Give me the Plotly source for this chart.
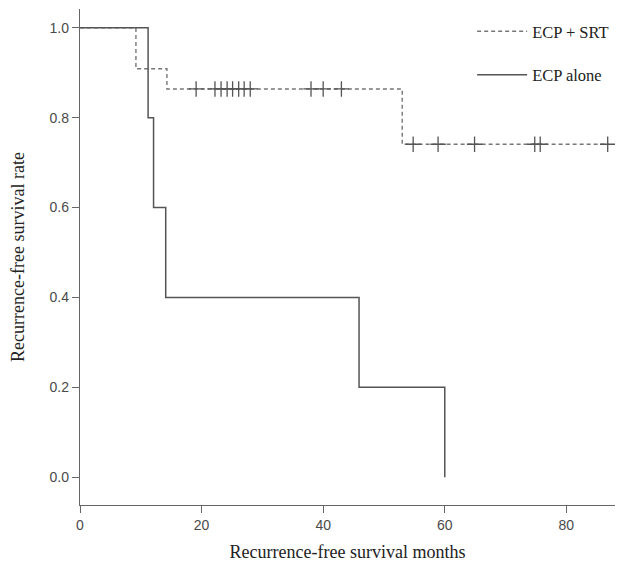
import plotly.graph_objects as go

# ECP + SRT Kaplan-Meier curve (event times and survival after each step)
srt_times = [0, 9.2, 14.3, 53.0, 87.0]
srt_surv = [1.0, 0.909, 0.864, 0.741, 0.741]
# censored observations
srt_cens_times = [19.1, 22.2, 23.2, 24.2, 25.1, 26.1, 27.0, 28.0, 38.0, 40.0, 43.0,
                  54.8, 58.9, 64.9, 74.8, 75.7, 86.8]
srt_cens_surv = [0.864] * 11 + [0.741] * 6

# ECP alone
alone_times = [0, 11.2, 12.1, 14.1, 45.9, 60.0]
alone_surv = [1.0, 0.8, 0.6, 0.4, 0.2, 0.0]

x_ticks = [0, 20, 40, 60, 80]
y_ticks = [0.0, 0.2, 0.4, 0.6, 0.8, 1.0]
y_tick_text = ["0.0", "0.2", "0.4", "0.6", "0.8", "1.0"]

serif = "Liberation Serif, Times New Roman, serif"
sans = "Liberation Sans, Arial, sans-serif"
axis_col = "#666666"

fig = go.Figure()
fig.add_trace(go.Scatter(
    x=srt_times, y=srt_surv, mode="lines", line_shape="hv",
    line=dict(color="#777777", width=1.4, dash="4px,3px"),
    name="ECP + SRT", legendgroup="a", showlegend=True))
fig.add_trace(go.Scatter(
    x=srt_cens_times, y=srt_cens_surv, mode="markers",
    marker=dict(symbol="cross-thin", size=11, line=dict(color="#555555", width=1.3)),
    showlegend=False, legendgroup="a"))
fig.add_trace(go.Scatter(
    x=alone_times, y=alone_surv, mode="lines", line_shape="hv",
    line=dict(color="#555555", width=1.5),
    name="ECP alone", legendgroup="b", showlegend=True))

fig.update_layout(
    width=617, height=562,
    margin=dict(l=80, r=2, t=9, b=57),
    paper_bgcolor="white", plot_bgcolor="white",
    showlegend=True,
    legend=dict(x=0.733, xanchor="left", y=0.99, yanchor="top",
                font=dict(family=serif, size=16.5, color="#222222"),
                traceorder="grouped", tracegroupgap=19,
                bgcolor="rgba(0,0,0,0)", itemwidth=50),
    xaxis=dict(range=[0, 88], tickvals=x_ticks, ticks="outside", ticklen=7,
               tickcolor=axis_col, showline=True, linecolor=axis_col, linewidth=1.3,
               showgrid=False, zeroline=False, automargin=False,
               tickfont=dict(family=sans, size=14, color="#4a4a4a"),
               title=dict(text="Recurrence-free survival months",
                          font=dict(family=serif, size=18, color="#222222"), standoff=13)),
    yaxis=dict(range=[-0.062, 1.042], tickvals=y_ticks, ticktext=y_tick_text,
               ticks="outside", ticklen=7,
               tickcolor=axis_col, showline=True, linecolor=axis_col, linewidth=1.3,
               showgrid=False, zeroline=False, automargin=False,
               tickfont=dict(family=sans, size=14, color="#4a4a4a"),
               title=dict(text="Recurrence-free survival rate",
                          font=dict(family=serif, size=18, color="#222222"), standoff=20)),
)

fig.write_html("out.html", config={"displayModeBar": False},
               post_script="document.body.style.margin='0';document.body.style.overflow='hidden';")
